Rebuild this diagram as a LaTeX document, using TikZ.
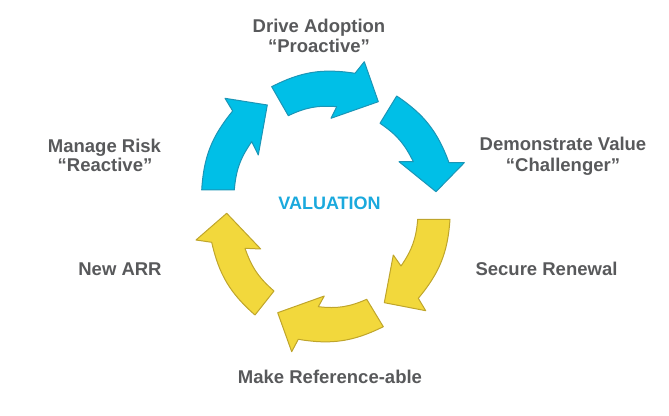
\documentclass[tikz,border=0pt]{standalone}
\usepackage{fontspec}
\setmainfont{Liberation Sans}
\definecolor{txtgray}{HTML}{58595B}
\definecolor{valblue}{HTML}{1AA9DD}
\definecolor{bfill}{HTML}{00BFE7}
\definecolor{bline}{HTML}{1B95B6}
\definecolor{yfill}{HTML}{F2D83C}
\definecolor{yline}{HTML}{BFA52B}
\tikzset{
  lbl/.style={anchor=base, inner sep=0pt, text=txtgray, font=\fontsize{18.5}{19}\selectfont\bfseries},
  vlbl/.style={anchor=base, inner sep=0pt, text=valblue, font=\fontsize{18}{19}\selectfont\bfseries},
  barrow/.style={fill=bfill, draw=bline, line width=1pt, line join=round},
  yarrow/.style={fill=yfill, draw=yline, line width=1pt, line join=round},
}
\begin{document}
\begin{tikzpicture}[x=1pt,y=1pt]
\useasboundingbox (0,0) rectangle (669,415);
% arrow 1 (left, blue)
\coordinate (a1to) at (201.7,225); \coordinate (a1ti) at (234.3,225);
\coordinate (a1no) at (232.7,304); \coordinate (a1bo) at (225,316.7);
\coordinate (a1p) at (267.3,310); \coordinate (a1bi) at (258.3,260);
\coordinate (a1ni) at (251.7,273.3);
\draw[barrow] (a1to) to[bend left=18] (a1no) -- (a1bo) -- (a1p) -- (a1bi) -- (a1ni) to[bend right=15] (a1ti) -- cycle;
% arrow 2 (top, blue)
\coordinate (a2to) at (271.7,328.3); \coordinate (a2ti) at (288.3,299.3);
\coordinate (a2no) at (355,341.7); \coordinate (a2bo) at (364.3,353.3);
\coordinate (a2p) at (378.3,313.3); \coordinate (a2bi) at (331,296.7);
\coordinate (a2ni) at (336.7,308.3);
\draw[barrow] (a2to) to[bend left=18] (a2no) -- (a2bo) -- (a2p) -- (a2bi) -- (a2ni) to[bend right=15] (a2ti) -- cycle;
% arrow 3 (right, blue)
\coordinate (a3to) at (396.7,319); \coordinate (a3ti) at (380,291.7);
\coordinate (a3no) at (449,252.3); \coordinate (a3bo) at (464.3,252.3);
\coordinate (a3p) at (436,223.3); \coordinate (a3bi) at (399,253.3);
\coordinate (a3ni) at (413.3,253.3);
\draw[barrow] (a3to) to[bend left=18] (a3no) -- (a3bo) -- (a3p) -- (a3bi) -- (a3ni) to[bend right=15] (a3ti) -- cycle;
% arrow 4 (right, yellow)
\coordinate (a4to) at (450,195.7); \coordinate (a4ti) at (417.7,195.7);
\coordinate (a4no) at (418.3,116.7); \coordinate (a4bo) at (425.7,104.3);
\coordinate (a4p) at (384.3,112.3); \coordinate (a4bi) at (393.3,160);
\coordinate (a4ni) at (401,149);
\draw[yarrow] (a4to) to[bend left=18] (a4no) -- (a4bo) -- (a4p) -- (a4bi) -- (a4ni) to[bend right=15] (a4ti) -- cycle;
% arrow 5 (bottom, yellow)
\coordinate (a5to) at (383.3,88.3); \coordinate (a5ti) at (366.7,115.7);
\coordinate (a5no) at (298.3,75.7); \coordinate (a5bo) at (291.7,63.3);
\coordinate (a5p) at (277.7,102.3); \coordinate (a5bi) at (324.3,119);
\coordinate (a5ni) at (318.3,108.3);
\draw[yarrow] (a5to) to[bend left=18] (a5no) -- (a5bo) -- (a5p) -- (a5bi) -- (a5ni) to[bend right=15] (a5ti) -- cycle;
% arrow 6 (left, yellow)
\coordinate (a6to) at (255,100); \coordinate (a6ti) at (274,124);
\coordinate (a6no) at (211.7,172.7); \coordinate (a6bo) at (196,175);
\coordinate (a6p) at (226.7,201.7); \coordinate (a6bi) at (260.7,166);
\coordinate (a6ni) at (245,166.7);
\draw[yarrow] (a6to) to[bend left=18] (a6no) -- (a6bo) -- (a6p) -- (a6bi) -- (a6ni) to[bend right=15] (a6ti) -- cycle;
% labels
\node[lbl] (drive) at (319,382) {Drive Adoption};
\node[lbl] (proact) at (319,362.5) {“Proactive”};
\node[lbl] (demo) at (563,264) {Demonstrate Value};
\node[lbl] (chall) at (563,243.5) {“Challenger”};
\node[lbl] (manage) at (104.5,262.5) {Manage Risk};
\node[lbl] (react) at (105,243) {“Reactive”};
\node[lbl] (newarr) at (120,139) {New ARR};
\node[lbl] (secure) at (546.5,139) {Secure Renewal};
\node[lbl] (make) at (330,31.5) {Make Reference-able};
\node[vlbl] (val) at (329.5,205) {VALUATION};
\end{tikzpicture}
\end{document}
